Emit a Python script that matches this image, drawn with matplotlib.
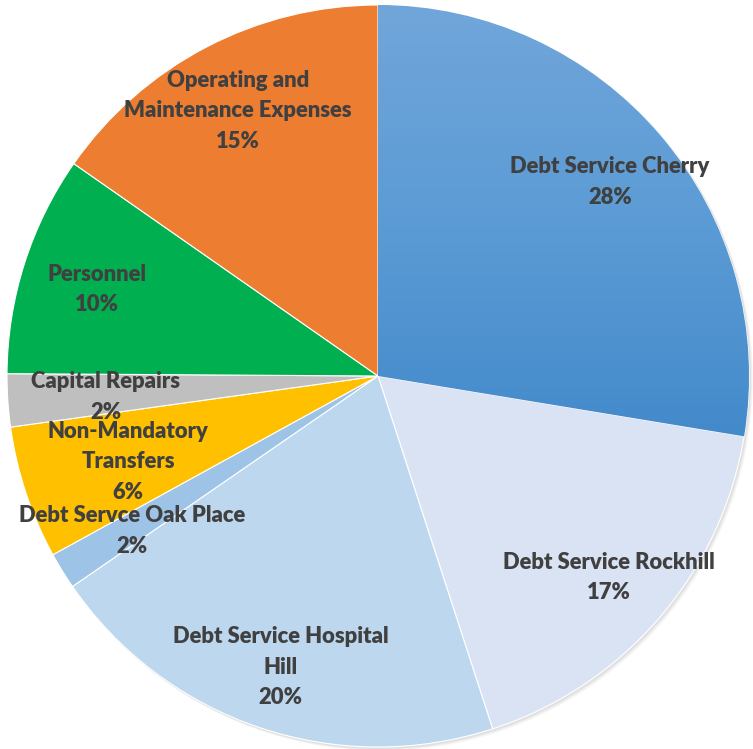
import matplotlib
matplotlib.use("Agg")
import matplotlib.pyplot as plt
import numpy as np
from matplotlib.patches import Circle
from matplotlib.colors import LinearSegmentedColormap

categories = ["Debt Service Cherry", "Debt Service Rockhill", "Debt Service Hospital\nHill",
              "Debt Servce Oak Place", "Non-Mandatory\nTransfers", "Capital Repairs",
              "Personnel", "Operating and\nMaintenance Expenses"]
values = [27.6, 17.4, 20.4, 1.6, 5.8, 2.3, 9.6, 15.3]
colors = ["#5B9BD5", "#DAE3F3", "#BDD7EE", "#9DC3E6", "#FFC000", "#BFBFBF", "#00B050", "#ED7D31"]
label_r = [0.82, 0.82, 0.82, 0.78, 0.71, 0.736, 0.795, 0.815]

W, H = 753, 749
fig = plt.figure(figsize=(W / 100, H / 100), dpi=100)
ax = fig.add_axes([0, 0, 1, 1])

cx, cy, R = 378, H - 376, 371

# subtle shadow
for i, a in enumerate([0.05, 0.04, 0.03]):
    ax.add_patch(Circle((cx + 1.5 + i, cy - 1.5 - i), R + 0.5, color="black", alpha=a, lw=0, zorder=0))

wedges, _ = ax.pie(values, colors=colors, startangle=90, counterclock=False,
                   center=(cx, cy), radius=R, frame=True,
                   wedgeprops=dict(edgecolor="white", linewidth=0.8))
ax.set_xlim(0, W)
ax.set_ylim(0, H)
ax.axis("off")

# gradient on first wedge
grad = np.linspace(0, 1, 256).reshape(-1, 1)
cmap = LinearSegmentedColormap.from_list("g", ["#71A6DA", "#5B9BD5", "#4289CA"])
img = ax.imshow(grad, cmap=cmap, extent=(cx, cx + R, cy - R * 0.2, cy + R), origin="upper",
                aspect="auto", zorder=wedges[0].get_zorder() + 0.1)
img.set_clip_path(wedges[0])

total = sum(values)
for w, lab, v, rf in zip(wedges, categories, values, label_r):
    ang = np.deg2rad((w.theta1 + w.theta2) / 2)
    x = cx + rf * R * np.cos(ang)
    y = cy + rf * R * np.sin(ang) - 3
    ax.text(x, y, f"{lab}\n{v / total * 100:.0f}%", ha="center", va="center",
            fontsize=15.8, fontweight="heavy", family="Lato", color="#404040",
            linespacing=1.55, zorder=10)

fig.savefig("out.png", dpi=100)
